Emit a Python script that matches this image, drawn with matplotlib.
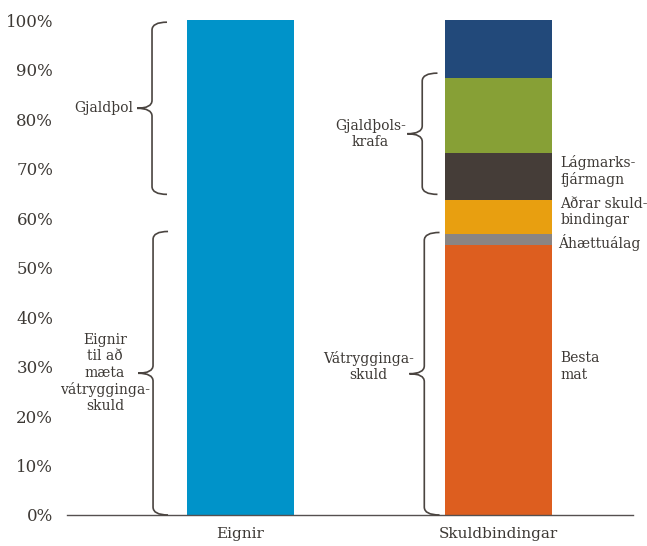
import matplotlib
matplotlib.use("Agg")
import matplotlib.pyplot as plt
from matplotlib.path import Path
from matplotlib.patches import PathPatch

# Data (% of total)
categories = ["Eignir", "Skuldbindingar"]
eignir = [100.0]
seg_names = ["Besta mat", "Áhættuálag", "Aðrar skuldbindingar",
             "Lágmarksfjármagn", "Gjaldþolskrafa umfram", "Annað"]
seg_values = [54.5, 2.2, 6.9, 9.5, 15.2, 11.7]
seg_colors = ["#dd5e1f", "#8a8583", "#e89f10", "#453d38", "#87a036", "#22497a"]
eignir_color = "#0093c9"

text_col = "#3d3935"
plt.rcParams["font.family"] = ["DejaVu Serif"]

fig = plt.figure(figsize=(6.47, 5.46), dpi=100)
ax = fig.add_axes([0.1036, 0.0568, 0.8744, 0.9062])

width = 0.415
ax.bar(0, eignir[0], width=width, color=eignir_color, zorder=2)
bottom = 0
for v, c in zip(seg_values, seg_colors):
    ax.bar(1, v, width=width, bottom=bottom, color=c, zorder=2)
    bottom += v

ax.set_xlim(-0.67, 1.52)
ax.set_ylim(0, 100)
ax.set_yticks(range(0, 101, 10))
ax.set_yticklabels([f"{t}%" for t in range(0, 101, 10)])
ax.set_xticks([0, 1])
ax.set_xticklabels(categories)
ax.tick_params(axis="y", length=0, pad=10, labelsize=12, labelcolor=text_col)
ax.tick_params(axis="x", length=0, pad=9, labelsize=11, labelcolor=text_col)
for s in ["top", "right", "left"]:
    ax.spines[s].set_visible(False)
ax.spines["bottom"].set_color("#555050")
ax.spines["bottom"].set_linewidth(1.0)


def brace(x, y0, y1, tip, point, r=1.6):
    """Curly brace with open side to the right, pointer to the left."""
    ym = (y0 + y1) / 2
    verts = [
        (tip, y1), (x, y1), (x, y1 - r),
        (x, ym + r),
        (x, ym), (point, ym),
        (x, ym), (x, ym - r),
        (x, y0 + r),
        (x, y0), (tip, y0),
    ]
    codes = [Path.MOVETO, Path.CURVE3, Path.CURVE3,
             Path.LINETO,
             Path.CURVE3, Path.CURVE3,
             Path.CURVE3, Path.CURVE3,
             Path.LINETO,
             Path.CURVE3, Path.CURVE3]
    p = PathPatch(Path(verts, codes), fill=False, edgecolor="#4a4440",
                  lw=1.2, clip_on=False, zorder=3)
    ax.add_patch(p)
    return ym


ls = 1.2

# Braces next to the asset bar
ym = brace(-0.341, 64.8, 99.6, -0.283, -0.399)
ax.text(-0.415, ym, "Gjaldþol", ha="right", va="center", fontsize=10, color=text_col)
ym = brace(-0.337, 0, 57.3, -0.279, -0.395)
ax.text(-0.523, ym, "Eignir\ntil að\nmæta\nvátrygginga-\nskuld", ha="center",
        va="center", fontsize=10, color=text_col, linespacing=ls)

# Braces next to the liabilities bar
ym = brace(0.705, 64.8, 89.3, 0.764, 0.647)
ax.text(0.504, ym, "Gjaldþols-\nkrafa", ha="center", va="center",
        fontsize=10, color=text_col, linespacing=ls)
ym = brace(0.713, 0, 57.1, 0.772, 0.655)
ax.text(0.496, ym + 1.5, "Vátrygginga-\nskuld", ha="center", va="center",
        fontsize=10, color=text_col, linespacing=ls)

# Segment labels to the right of the liabilities bar
lx = 1.24
ax.text(lx, 69.5, "Lágmarks-\nfjármagn", ha="left", va="center", fontsize=10,
        color=text_col, linespacing=ls)
ax.text(lx, 61.2, "Aðrar skuld-\nbindingar", ha="left", va="center", fontsize=10,
        color=text_col, linespacing=ls)
ax.text(lx - 0.01, 55.0, "Áhættuálag", ha="left", va="center", fontsize=10,
        color=text_col)
ax.text(lx, 30.0, "Besta\nmat", ha="left", va="center", fontsize=10,
        color=text_col, linespacing=ls)

fig.savefig("out.png", dpi=100)
